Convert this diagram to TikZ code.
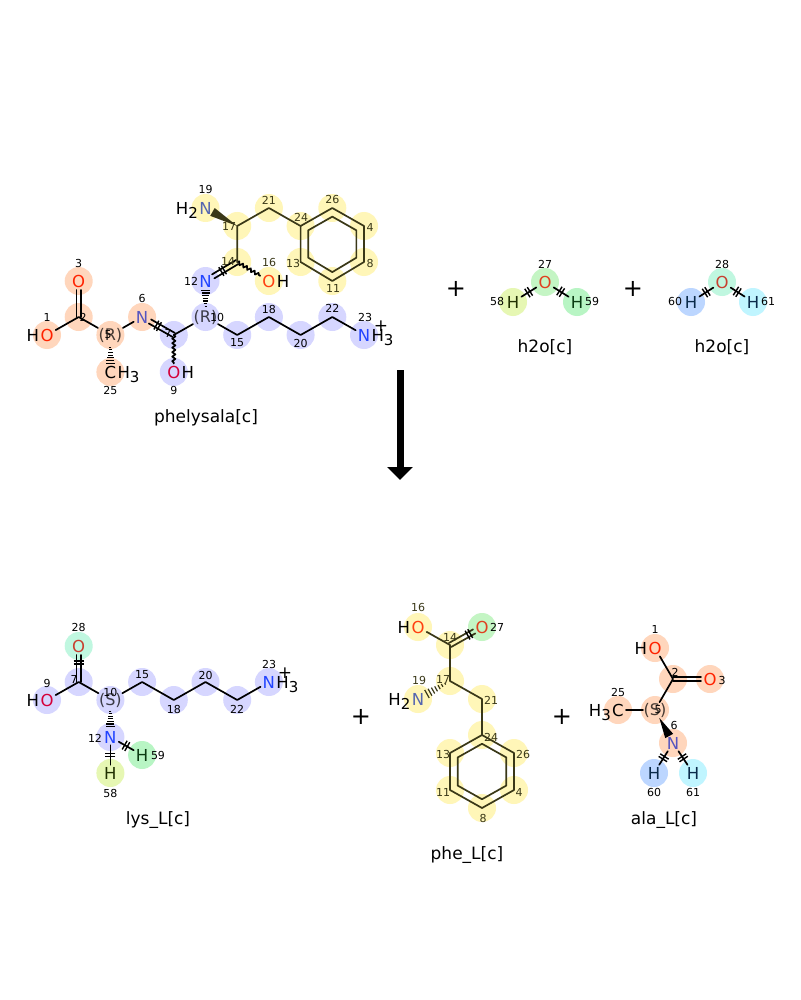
\documentclass[tikz,border=0pt]{standalone}
\usepackage{fontspec}
\setmainfont{DejaVu Sans}
\usetikzlibrary{calc,arrows.meta,decorations.pathmorphing,backgrounds}
\definecolor{cpeach}{HTML}{FFD6BC}
\definecolor{clav}{HTML}{D6D6FF}
\definecolor{cyel}{HTML}{FFF6B8}
\definecolor{cyg}{HTML}{E6F7B3}
\definecolor{cgr}{HTML}{C4F5C4}
\definecolor{cgr2}{HTML}{B8F5C4}
\definecolor{cmint}{HTML}{C0F7E0}
\definecolor{cblu}{HTML}{BCD6FF}
\definecolor{ccya}{HTML}{C0F5FF}
\definecolor{ored}{HTML}{FF2200}
\definecolor{oorg}{HTML}{FF4010}
\definecolor{ocrim}{HTML}{D4003A}
\definecolor{ogrn}{HTML}{E04020}
\definecolor{omint}{HTML}{C84030}
\definecolor{nblue}{HTML}{2244FF}
\definecolor{npch}{HTML}{5555C0}
\definecolor{nyel}{HTML}{5566B0}
\definecolor{olv}{HTML}{3A3818}
\definecolor{hgrn}{HTML}{0A3A12}
\definecolor{hyg}{HTML}{203000}
\definecolor{hblu}{HTML}{0A2A4A}
\newcommand\lsub[1]{\raisebox{-4pt}{\fontsize{15}{15}\selectfont #1}}
\newcommand\molDbl[6][]{%
  \path ($(#2.center)!#4!(#3.center)$) coordinate (dA)
        ($(#3.center)!#5!(#2.center)$) coordinate (dB);
  \draw[bond,#1] ($(dA)!#6!90:(dB)$) -- ($(dB)!#6!-90:(dA)$);
  \draw[bond,#1] ($(dA)!#6!-90:(dB)$) -- ($(dB)!#6!90:(dA)$);
}
\newcommand\molTick[4][]{%
  \path ($(#2.center)!#4!(#3.center)$) coordinate (tA);
  \path ($(tA)!3pt!(#3.center)$) coordinate (tB);
  \draw[line width=1.4pt,#1] ($(tA)!5pt!90:(#3.center)$) -- ($(tA)!5pt!-90:(#3.center)$);
  \draw[line width=1.4pt,#1] ($(tB)!5pt!90:(#3.center)$) -- ($(tB)!5pt!-90:(#3.center)$);
}
\newcommand\molHash[5][]{%
  \foreach \i in {0,...,6}{%
    \pgfmathsetmacro\hwt{#4+(#5-#4)*\i/6}%
    \pgfmathsetmacro\hww{1+3.6*\i/6}%
    \path ($(#2.center)!\hwt!(#3.center)$) coordinate (hw);
    \draw[line width=1.2pt,#1] ($(hw)!\hww pt!90:(#3.center)$) -- ($(hw)!\hww pt!-90:(#3.center)$);
  }}
\newcommand\molWedge[5][]{%
  \path ($(#2.center)!#4!(#3.center)$) coordinate (wA)
        ($(#3.center)!#5!(#2.center)$) coordinate (wB);
  \fill[#1] (wA) -- ($(wB)!4.5pt!90:(wA)$) -- ($(wB)!4.5pt!-90:(wA)$) -- cycle;
}
\tikzset{
  atm/.style={font=\fontsize{16.5}{16.5}\selectfont, inner sep=2pt},
  atmh/.style={font=\fontsize{16.5}{16.5}\selectfont, inner sep=0pt},
  stereo/.style={font=\fontsize{16}{16}\selectfont, inner sep=0.5pt, text opacity=0.72},
  idx/.style={font=\fontsize{11}{11}\selectfont, inner sep=0pt},
  idxo/.style={idx, text=olv},
  nm/.style={font=\fontsize{17}{17}\selectfont, inner sep=0pt},
  pl/.style={font=\fontsize{17}{17}\selectfont, inner sep=0pt},
  bigplus/.style={font=\fontsize{24}{24}\selectfont, inner sep=0pt},
  bond/.style={line width=1.7pt, line cap=round, line join=round},
  olb/.style={draw=olv},
  wavy/.style={decorate, decoration={snake, amplitude=1.6pt, segment length=4.5pt}},
}
\begin{document}
\begin{tikzpicture}[x=1pt,y=-1pt]
\useasboundingbox (0,0) rectangle (800,1000);
% ================= phelysala =================
\coordinate (a2) at (78.7,317);
\node[atm,text=ored] (a1) at (47,335) {O};
\node[atm,text=ored] (a3) at (78.7,281) {O};
\node[stereo] (a5) at (110.4,335) {(R)};
\node[atm] (a25) at (110.4,372) {C};
\node[atm,text=npch] (a6) at (142.1,317) {N};
\coordinate (a7) at (173.8,335);
\node[atm,text=ocrim] (a9) at (173.8,372) {O};
\node[stereo] (a10) at (205.5,317) {(R)};
\node[atm,text=nblue] (a12) at (205.5,281) {N};
\coordinate (a14) at (237.2,262);
\node[atm,text=oorg] (a16) at (268.9,281) {O};
\coordinate (a17) at (237.2,226);
\node[atm,text=nyel] (a19) at (205.5,208) {N};
\coordinate (a21) at (268.9,208);
\coordinate (a24) at (300.6,226);
\coordinate (a26) at (332.3,208);
\coordinate (a4) at (364,226);
\coordinate (a8) at (364,262);
\coordinate (a11) at (332.3,281);
\coordinate (a13) at (300.6,262);
\coordinate (a15) at (237.2,335);
\coordinate (a18) at (268.9,317);
\coordinate (a20) at (300.6,335);
\coordinate (a22) at (332.3,317);
\node[atm,text=nblue] (a23) at (364,335) {N};
\node[atmh,anchor=base east] (a1h) at ([xshift=1pt]a1.base west) {H};
\node[atmh,anchor=base west] (a25h) at ([xshift=-1pt]a25.base east) {H\lsub{3}};
\node[atmh,anchor=base west] (a9h) at ([xshift=-1pt]a9.base east) {H};
\node[atmh,anchor=base west] (a16h) at ([xshift=-1pt]a16.base east) {H};
\node[atmh,anchor=base east] (a19h) at ([xshift=1pt]a19.base west) {H\lsub{2}};
\node[atmh,anchor=base west] (a23h) at ([xshift=-1pt]a23.base east) {H\lsub{3}};
\node[pl] (a23p) at (381,326) {+};
% bonds
\draw[bond] (a1) -- (a2) -- (a5);
\molDbl{a2}{a3}{0pt}{9pt}{2.3pt}
\molHash{a5}{a25}{0.33}{0.76}
\draw[bond] (a5) -- (a6);
\molDbl{a6}{a7}{9pt}{0pt}{2.3pt}
\molTick{a6}{a7}{0.45}
\draw[bond,wavy] (a7) -- (a9);
\draw[bond] (a7) -- (a10);
\molHash{a10}{a12}{0.3}{0.74}
\molDbl{a12}{a14}{9pt}{0pt}{2.3pt}
\molTick{a12}{a14}{0.5}
\draw[bond,wavy] (a14) -- (a16);
\draw[bond,olb] (a14) -- (a17) -- (a21) -- (a24);
\molWedge[olv]{a17}{a19}{0pt}{8pt}
\draw[bond,olb] (a24) -- (a26) -- (a4) -- (a8) -- (a11) -- (a13) -- cycle;
\coordinate (arc) at ($(a24)!0.5!(a8)$);
\draw[bond,olb] ($(arc)!0.76!(a24)$) -- ($(arc)!0.76!(a26)$) -- ($(arc)!0.76!(a4)$) -- ($(arc)!0.76!(a8)$) -- ($(arc)!0.76!(a11)$) -- ($(arc)!0.76!(a13)$) -- cycle;
\draw[bond] (a10) -- (a15) -- (a18) -- (a20) -- (a22) -- (a23);
% indices
\node[idx] (a1n) at (47,317) {1};
\node[idx] (a2n) at (83,317) {2};
\node[idx] (a3n) at (78.7,263) {3};
\node[idx] (a5n) at (108,335) {5};
\node[idx] (a25n) at (110.4,390) {25};
\node[idx] (a6n) at (142.1,298) {6};
\node[idx] (a7n) at (168,333) {7};
\node[idx] (a9n) at (173.8,390) {9};
\node[idx] (a10n) at (217,317) {10};
\node[idx] (a12n) at (191,281) {12};
\node[idxo] (a14n) at (228,261) {14};
\node[idxo] (a16n) at (269,262) {16};
\node[idxo] (a17n) at (229,226) {17};
\node[idx] (a19n) at (205.5,189) {19};
\node[idxo] (a21n) at (268.9,200) {21};
\node[idxo] (a24n) at (301,217) {24};
\node[idxo] (a26n) at (332.3,199) {26};
\node[idxo] (a4n) at (370,227) {4};
\node[idxo] (a8n) at (370,263) {8};
\node[idxo] (a11n) at (333,288) {11};
\node[idxo] (a13n) at (293,263) {13};
\node[idx] (a15n) at (237.2,343) {15};
\node[idx] (a18n) at (268.9,309) {18};
\node[idx] (a20n) at (300.6,343) {20};
\node[idx] (a22n) at (332.3,308) {22};
\node[idx] (a23n) at (365,317) {23};
\node[nm] (aname) at (206,418) {phelysala[c]};
% ================= h2o 1 =================
\node[atm,text=ogrn] (w27) at (545,282) {O};
\node[atm,text=hyg] (w58) at (513,302) {H};
\node[atm,text=hgrn] (w59) at (577,302) {H};
\draw[bond] (w58) -- (w27) -- (w59);
\molTick{w58}{w27}{0.45}
\molTick{w27}{w59}{0.45}
\node[idx] (w27n) at (545,264) {27};
\node[idx] (w58n) at (497,301) {58};
\node[idx] (w59n) at (592,301) {59};
\node[nm] (wname1) at (545,347) {h2o[c]};
% ================= h2o 2 =================
\node[atm,text=omint] (w28) at (722,282) {O};
\node[atm,text=hblu] (w60) at (691,302) {H};
\node[atm,text=hblu] (w61) at (753,302) {H};
\draw[bond] (w60) -- (w28) -- (w61);
\molTick{w60}{w28}{0.45}
\molTick{w28}{w61}{0.45}
\node[idx] (w28n) at (722,264) {28};
\node[idx] (w60n) at (675,301) {60};
\node[idx] (w61n) at (768,301) {61};
\node[nm] (wname2) at (722,347) {h2o[c]};
% plus signs top
\node[bigplus] (plus1) at (456,289) {+};
\node[bigplus] (plus2) at (633,289) {+};
% arrow
\coordinate (arrS) at (400,370);
\coordinate (arrE) at (400,480);
\draw[line width=7pt, -{Triangle[width=25pt,length=13pt]}] (arrS) -- (arrE);
% ================= lys_L =================
\node[atm,text=omint] (l28) at (78.7,646) {O};
\coordinate (l7) at (78.7,682);
\node[atm,text=ocrim] (l9) at (47,700) {O};
\node[stereo] (l10) at (110.4,700) {(S)};
\coordinate (l15) at (142.1,682);
\coordinate (l18) at (173.8,700);
\coordinate (l20) at (205.5,682);
\coordinate (l22) at (237.2,700);
\node[atm,text=nblue] (l23) at (268.9,682) {N};
\node[atm,text=nblue] (l12) at (110.4,737) {N};
\node[atm,text=hgrn] (l59) at (142.1,755) {H};
\node[atm,text=hyg] (l58) at (110.4,773) {H};
\node[atmh,anchor=base east] (l9h) at ([xshift=1pt]l9.base west) {H};
\node[atmh,anchor=base west] (l23h) at ([xshift=-1pt]l23.base east) {H\lsub{3}};
\node[pl] (l23p) at (285,673) {+};
\molDbl{l7}{l28}{0pt}{9pt}{2.3pt}
\molTick{l7}{l28}{0.5}
\draw[bond] (l9) -- (l7) -- (l10);
\draw[bond] (l10) -- (l15) -- (l18) -- (l20) -- (l22) -- (l23);
\molHash{l10}{l12}{0.3}{0.72}
\draw[bond] (l12) -- (l59);
\draw[bond] (l12) -- (l58);
\molTick{l12}{l59}{0.45}
\molTick{l12}{l58}{0.45}
\node[idx] (l28n) at (78.7,627) {28};
\node[idx] (l9n) at (47,683) {9};
\node[idx] (l7n) at (74,679) {7};
\node[idx] (l10n) at (110.4,692) {10};
\node[idx] (l15n) at (142.1,675) {15};
\node[idx] (l18n) at (173.8,709) {18};
\node[idx] (l20n) at (205.5,675) {20};
\node[idx] (l22n) at (237.2,709) {22};
\node[idx] (l23n) at (269,664) {23};
\node[idx] (l12n) at (95,738) {12};
\node[idx] (l59n) at (158,755) {59};
\node[idx] (l58n) at (110.4,793) {58};
\node[nm] (lname) at (158,820) {lys\_L[c]};
\node[bigplus] (plus3) at (361,717) {+};
% ================= phe_L =================
\node[atm,text=oorg] (f16) at (418,627) {O};
\coordinate (f14) at (450,645);
\node[atm,text=ogrn] (f27) at (482,627) {O};
\coordinate (f17) at (450,681);
\node[atm,text=nyel] (f19) at (418,699) {N};
\coordinate (f21) at (482,699);
\coordinate (f24) at (482,735);
\coordinate (f26) at (514,753);
\coordinate (f4) at (514,790);
\coordinate (f8) at (482,808);
\coordinate (f11) at (450,790);
\coordinate (f13) at (450,753);
\node[atmh,anchor=base east] (f16h) at ([xshift=1pt]f16.base west) {H};
\node[atmh,anchor=base east] (f19h) at ([xshift=1pt]f19.base west) {H\lsub{2}};
\draw[bond,olb] (f16) -- (f14) -- (f17) -- (f21) -- (f24);
\molDbl[olb]{f14}{f27}{0pt}{9pt}{2.3pt}
\molTick{f14}{f27}{0.55}
\molHash[olv]{f17}{f19}{0.15}{0.72}
\draw[bond,olb] (f24) -- (f26) -- (f4) -- (f8) -- (f11) -- (f13) -- cycle;
\coordinate (frc) at ($(f24)!0.5!(f8)$);
\draw[bond,olb] ($(frc)!0.76!(f24)$) -- ($(frc)!0.76!(f26)$) -- ($(frc)!0.76!(f4)$) -- ($(frc)!0.76!(f8)$) -- ($(frc)!0.76!(f11)$) -- ($(frc)!0.76!(f13)$) -- cycle;
\node[idxo] (f16n) at (418,607) {16};
\node[idxo] (f14n) at (450,637) {14};
\node[idx] (f27n) at (497,627) {27};
\node[idxo] (f17n) at (443,679) {17};
\node[idxo] (f19n) at (419,680) {19};
\node[idxo] (f21n) at (491,700) {21};
\node[idxo] (f24n) at (491,737) {24};
\node[idxo] (f26n) at (523,754) {26};
\node[idxo] (f4n) at (519,792) {4};
\node[idxo] (f8n) at (483,818) {8};
\node[idxo] (f11n) at (443,792) {11};
\node[idxo] (f13n) at (443,754) {13};
\node[nm] (fname) at (467,855) {phe\_L[c]};
\node[bigplus] (plus4) at (562,717) {+};
% ================= ala_L =================
\node[atm,text=ored] (g1) at (655,648) {O};
\coordinate (g2) at (673,679);
\node[atm,text=ored] (g3) at (710,679) {O};
\node[stereo] (g5) at (655,710) {(S)};
\node[atm] (g25) at (618,710) {C};
\node[atm,text=npch] (g6) at (673,743) {N};
\node[atm,text=hblu] (g60) at (654,773) {H};
\node[atm,text=hblu] (g61) at (693,773) {H};
\node[atmh,anchor=base east] (g1h) at ([xshift=1pt]g1.base west) {H};
\node[atmh,anchor=base east] (g25h) at ([xshift=1pt]g25.base west) {H\lsub{3}};
\draw[bond] (g1) -- (g2) -- (g5);
\molDbl{g2}{g3}{0pt}{9pt}{2.3pt}
\draw[bond] (g5) -- (g25);
\molWedge[black]{g5}{g6}{9pt}{8pt}
\draw[bond] (g6) -- (g60);
\draw[bond] (g6) -- (g61);
\molTick{g6}{g60}{0.45}
\molTick{g6}{g61}{0.45}
\node[idx] (g1n) at (655,629) {1};
\node[idx] (g2n) at (675,672) {2};
\node[idx] (g3n) at (722,680) {3};
\node[idx] (g5n) at (658,710) {5};
\node[idx] (g25n) at (618,692) {25};
\node[idx] (g6n) at (674,725) {6};
\node[idx] (g60n) at (654,792) {60};
\node[idx] (g61n) at (693,792) {61};
\node[nm] (gname) at (664,820) {ala\_L[c]};
% ================= highlight circles =================
\begin{scope}[on background layer]
\fill[white] (0,0) rectangle (800,1000);
\foreach \n in {a1,a2,a3,a5,a25,a6,g1,g2,g3,g5,g25,g6} \fill[cpeach] (\n) circle (14pt);
\foreach \n in {a7,a9,a10,a12,a15,a18,a20,a22,a23,l7,l9,l10,l15,l18,l20,l22,l23,l12} \fill[clav] (\n) circle (14pt);
\foreach \n in {a19,a17,a14,a16,a21,a24,a26,a4,a8,a11,a13,f16,f14,f17,f19,f21,f24,f26,f4,f8,f11,f13} \fill[cyel] (\n) circle (14pt);
\foreach \n in {w58,l58} \fill[cyg] (\n) circle (14pt);
\foreach \n in {w27,f27} \fill[cgr] (\n) circle (14pt);
\foreach \n in {w59,l59} \fill[cgr2] (\n) circle (14pt);
\foreach \n in {w28,l28} \fill[cmint] (\n) circle (14pt);
\foreach \n in {w60,g60} \fill[cblu] (\n) circle (14pt);
\foreach \n in {w61,g61} \fill[ccya] (\n) circle (14pt);
\end{scope}
\end{tikzpicture}
\end{document}
